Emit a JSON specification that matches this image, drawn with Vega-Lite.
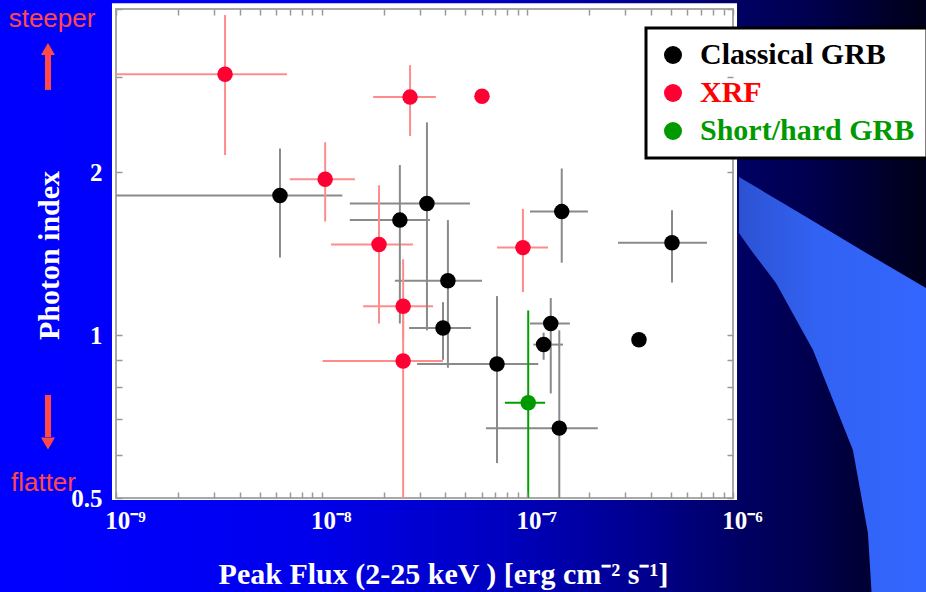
{
  "$schema": "https://vega.github.io/schema/vega-lite/v6.json",
  "width": 617,
  "height": 489,
  "autosize": {"type": "none"},
  "padding": {"left": 116, "top": 9, "right": 193, "bottom": 94},
  "background": "#0000e0",
  "config": {"view": {"stroke": null}, "font": "Liberation Serif", "legend": {"strokeWidth": 3}},
  "datasets": {
    "grb": [
      {"type": "Classical GRB", "flux": 6.27e-9, "flo": 1.0e-9, "fhi": 1.26e-8, "idx": 1.81, "ilo": 1.39, "ihi": 2.21},
      {"type": "Classical GRB", "flux": 2.40e-8, "flo": 1.37e-8, "fhi": 3.36e-8, "idx": 1.63, "ilo": 1.05, "ihi": 2.06},
      {"type": "Classical GRB", "flux": 3.25e-8, "flo": 1.37e-8, "fhi": 5.26e-8, "idx": 1.75, "ilo": 1.02, "ihi": 2.47},
      {"type": "Classical GRB", "flux": 4.11e-8, "flo": 2.27e-8, "fhi": 6.02e-8, "idx": 1.26, "ilo": 0.87, "ihi": 1.63},
      {"type": "Classical GRB", "flux": 3.89e-8, "flo": 2.66e-8, "fhi": 5.32e-8, "idx": 1.03, "ilo": 0.90, "ihi": 1.15},
      {"type": "Classical GRB", "flux": 7.12e-8, "flo": 2.91e-8, "fhi": 1.13e-7, "idx": 0.884, "ilo": 0.58, "ihi": 1.18},
      {"type": "Classical GRB", "flux": 1.30e-7, "flo": 1.03e-7, "fhi": 1.61e-7, "idx": 1.05, "ilo": 0.78, "ihi": 1.17},
      {"type": "Classical GRB", "flux": 1.20e-7, "flo": 1.07e-7, "fhi": 1.49e-7, "idx": 0.96, "ilo": 0.90, "ihi": 1.01},
      {"type": "Classical GRB", "flux": 1.43e-7, "flo": 6.29e-8, "fhi": 2.20e-7, "idx": 0.673, "ilo": 0.5, "ihi": 1.02},
      {"type": "Classical GRB", "flux": 1.47e-7, "flo": 1.03e-7, "fhi": 1.97e-7, "idx": 1.69, "ilo": 1.36, "ihi": 2.03},
      {"type": "Classical GRB", "flux": 3.49e-7, "idx": 0.98},
      {"type": "Classical GRB", "flux": 5.05e-7, "flo": 2.76e-7, "fhi": 7.47e-7, "idx": 1.48, "ilo": 1.25, "ihi": 1.70},
      {"type": "XRF", "flux": 3.39e-9, "flo": 1.0e-9, "fhi": 6.78e-9, "idx": 3.03, "ilo": 2.15, "ihi": 3.90},
      {"type": "XRF", "flux": 1.04e-8, "flo": 7.0e-9, "fhi": 1.45e-8, "idx": 1.94, "ilo": 1.62, "ihi": 2.27},
      {"type": "XRF", "flux": 2.69e-8, "flo": 1.78e-8, "fhi": 3.59e-8, "idx": 2.75, "ilo": 2.33, "ihi": 3.15},
      {"type": "XRF", "flux": 6.02e-8, "idx": 2.76},
      {"type": "XRF", "flux": 1.90e-8, "flo": 1.11e-8, "fhi": 2.78e-8, "idx": 1.47, "ilo": 1.05, "ihi": 1.89},
      {"type": "XRF", "flux": 2.49e-8, "flo": 1.59e-8, "fhi": 3.48e-8, "idx": 1.13, "ilo": 0.98, "ihi": 1.38},
      {"type": "XRF", "flux": 2.49e-8, "flo": 1.01e-8, "fhi": 3.89e-8, "idx": 0.895, "ilo": 0.5, "ihi": 1.15},
      {"type": "XRF", "flux": 9.52e-8, "flo": 7.12e-8, "fhi": 1.26e-7, "idx": 1.45, "ilo": 1.20, "ihi": 1.71},
      {"type": "Short/hard GRB", "flux": 1.01e-7, "flo": 7.78e-8, "fhi": 1.22e-7, "idx": 0.75, "ilo": 0.5, "ihi": 1.11}
    ],
    "swoosh": [
      {"sx": 1.069e-6, "top": 1.958, "bottom": 1.543},
      {"sx": 1.223e-6, "top": 1.90, "bottom": 1.435},
      {"sx": 1.618e-6, "top": 1.783, "bottom": 1.247},
      {"sx": 2.449e-6, "top": 1.624, "bottom": 0.938},
      {"sx": 3.828e-6, "top": 1.466, "bottom": 0.613},
      {"sx": 4.53e-6, "top": 1.411, "bottom": 0.431},
      {"sx": 4.80e-6, "top": 1.393, "bottom": 0.3},
      {"sx": 9.08e-6, "top": 1.209, "bottom": 0.3}
    ],
    "notes": [
      {"label": "steeper", "nx": 4.886e-10, "ny": 3.706},
      {"label": "flatter", "nx": 4.44e-10, "ny": 0.515}
    ],
    "arrows": [
      {"dir": "up", "ax": 4.67e-10, "a1": 3.29, "a2": 2.835, "hy": 3.375},
      {"dir": "down", "ax": 4.67e-10, "a1": 0.775, "a2": 0.648, "hy": 0.6304}
    ]
  },
  "resolve": {"axis": {"x": "independent", "y": "independent"}},
  "layer": [
    {
      "data": {"values": [{}]},
      "mark": {"type": "rect", "color": {"gradient": "linear", "x1": 0, "y1": 0, "x2": 1, "y2": 0, "stops": [
        {"offset": 0, "color": "#0000ff"},
        {"offset": 0.12, "color": "#0000fc"},
        {"offset": 0.33, "color": "#0000ec"},
        {"offset": 0.54, "color": "#0000c0"},
        {"offset": 0.70, "color": "#00008c"},
        {"offset": 0.80, "color": "#000062"},
        {"offset": 0.87, "color": "#000050"},
        {"offset": 1, "color": "#000018"}
      ]}},
      "encoding": {
        "x": {"datum": 2.73e-10, "type": "quantitative", "scale": {"type": "log", "domain": [1e-9, 1e-6]}, "axis": null},
        "x2": {"datum": 8.67e-6},
        "y": {"datum": 0.33, "type": "quantitative", "scale": {"type": "log", "domain": [0.5, 4]}, "axis": null},
        "y2": {"datum": 4.3}
      }
    },
    {
      "data": {"name": "swoosh"},
      "mark": {"type": "area", "color": {"gradient": "linear", "x1": 0, "y1": 0, "x2": 1, "y2": 0, "stops": [
        {"offset": 0, "color": "#2c52d2"},
        {"offset": 0.4, "color": "#3262f2"},
        {"offset": 1, "color": "#3366ff"}
      ]}},
      "encoding": {
        "x": {"field": "sx", "type": "quantitative", "scale": {"type": "log", "domain": [1e-9, 1e-6]}, "axis": null},
        "y": {"field": "top", "type": "quantitative", "stack": null, "scale": {"type": "log", "domain": [0.5, 4]}, "axis": null},
        "y2": {"field": "bottom"}
      }
    },
    {
      "data": {"values": [{}]},
      "mark": {"type": "rect", "fill": "#ffffff"},
      "encoding": {
        "x": {"datum": 9.56e-10, "type": "quantitative", "scale": {"type": "log", "domain": [1e-9, 1e-6]}, "axis": null},
        "x2": {"datum": 1.046e-6},
        "y": {"datum": 0.4958, "type": "quantitative", "scale": {"type": "log", "domain": [0.5, 4]}, "axis": null},
        "y2": {"datum": 4.1}
      }
    },
    {
      "data": {"values": [{}]},
      "mark": {"type": "rect", "fill": "#ffffff", "stroke": "#a8a8a8", "strokeWidth": 2},
      "encoding": {
        "x": {"datum": 1e-9, "type": "quantitative", "scale": {"type": "log", "domain": [1e-9, 1e-6]},
          "axis": {
            "orient": "bottom", "zindex": 1, "domain": false, "grid": false,
            "values": [1e-9, 2e-9, 3e-9, 4e-9, 5e-9, 6e-9, 7e-9, 8e-9, 9e-9, 1e-8, 2e-8, 3e-8, 4e-8, 5e-8, 6e-8, 7e-8, 8e-8, 9e-8, 1e-7, 2e-7, 3e-7, 4e-7, 5e-7, 6e-7, 7e-7, 8e-7, 9e-7, 1e-6],
            "labelExpr": "datum.value < 1.5e-9 ? '10⁻⁹' : (abs(datum.value - 1e-8) < 1e-12 ? '10⁻⁸' : (abs(datum.value - 1e-7) < 1e-11 ? '10⁻⁷' : (abs(datum.value - 1e-6) < 1e-10 ? '10⁻⁶' : '')))",
            "ticks": true, "tickSize": -6, "tickColor": "#999999", "tickWidth": 1.5,
            "labelOverlap": false, "labelFlush": false, "labelBound": false,
            "labelFont": "Liberation Serif", "labelFontWeight": "bold", "labelFontSize": 25, "labelColor": "#ffffff",
            "labelPadding": 16, "labelOffset": 9,
            "title": "Peak Flux (2-25 keV ) [erg cm⁻² s⁻¹]",
            "titleFont": "Liberation Serif", "titleFontWeight": "bold", "titleFontSize": 30, "titleColor": "#ffffff",
            "titleX": 327, "titleY": 85, "titleBaseline": "alphabetic", "titleAlign": "center"
          }},
        "x2": {"datum": 1e-6},
        "y": {"datum": 0.5, "type": "quantitative", "scale": {"type": "log", "domain": [0.5, 4]},
          "axis": {
            "orient": "left", "zindex": 1, "domain": false, "grid": false,
            "values": [0.5, 0.6, 0.7, 0.8, 0.9, 1, 2, 3, 4],
            "labelExpr": "datum.value == 0.5 ? '0.5' : (datum.value == 1 ? '1' : (datum.value == 2 ? '2' : ''))",
            "ticks": true, "tickSize": -6, "tickColor": "#999999", "tickWidth": 1.5,
            "labelOverlap": false, "labelFlush": false, "labelBound": false,
            "labelFont": "Liberation Serif", "labelFontWeight": "bold", "labelFontSize": 25, "labelColor": "#ffffff",
            "labelPadding": 20,
            "title": "Photon index",
            "titleFont": "Liberation Serif", "titleFontWeight": "bold", "titleFontSize": 30, "titleColor": "#ffffff",
            "titleX": -58, "titleY": 246, "titleBaseline": "alphabetic", "titleAlign": "center", "titleAngle": -90
          }},
        "y2": {"datum": 4}
      }
    },
    {
      "data": {"name": "grb"},
      "transform": [{"filter": "isValid(datum.flo)"}],
      "mark": {"type": "rule", "strokeWidth": 2},
      "encoding": {
        "x": {"field": "flo", "type": "quantitative", "scale": {"type": "log", "domain": [1e-9, 1e-6]}, "axis": null},
        "x2": {"field": "fhi"},
        "y": {"field": "idx", "type": "quantitative", "scale": {"type": "log", "domain": [0.5, 4]}, "axis": null},
        "color": {"condition": [{"test": "datum.type === 'XRF'", "value": "#ff8c8c"}, {"test": "datum.type === 'Short/hard GRB'", "value": "#00a000"}], "value": "#8a8a8a"}
      }
    },
    {
      "data": {"name": "grb"},
      "transform": [{"filter": "isValid(datum.ilo)"}],
      "mark": {"type": "rule", "strokeWidth": 2},
      "encoding": {
        "x": {"field": "flux", "type": "quantitative", "scale": {"type": "log", "domain": [1e-9, 1e-6]}, "axis": null},
        "y": {"field": "ilo", "type": "quantitative", "scale": {"type": "log", "domain": [0.5, 4]}, "axis": null},
        "y2": {"field": "ihi"},
        "color": {"condition": [{"test": "datum.type === 'XRF'", "value": "#ff8c8c"}, {"test": "datum.type === 'Short/hard GRB'", "value": "#00a000"}], "value": "#8a8a8a"}
      }
    },
    {
      "data": {"name": "grb"},
      "mark": {"type": "point", "filled": true, "opacity": 1, "size": 240, "shape": "circle", "strokeWidth": 0},
      "encoding": {
        "x": {"field": "flux", "type": "quantitative", "scale": {"type": "log", "domain": [1e-9, 1e-6]},
          "axis": {"orient": "top", "zindex": 1, "domain": false, "grid": false, "labels": false, "title": null,
            "values": [1e-9, 2e-9, 3e-9, 4e-9, 5e-9, 6e-9, 7e-9, 8e-9, 9e-9, 1e-8, 2e-8, 3e-8, 4e-8, 5e-8, 6e-8, 7e-8, 8e-8, 9e-8, 1e-7, 2e-7, 3e-7, 4e-7, 5e-7, 6e-7, 7e-7, 8e-7, 9e-7, 1e-6],
            "tickSize": -6, "tickColor": "#999999", "tickWidth": 1.5}},
        "y": {"field": "idx", "type": "quantitative", "scale": {"type": "log", "domain": [0.5, 4]},
          "axis": {"orient": "right", "zindex": 1, "domain": false, "grid": false, "labels": false, "title": null,
            "values": [0.5, 0.6, 0.7, 0.8, 0.9, 1, 2, 3, 4],
            "tickSize": -6, "tickColor": "#999999", "tickWidth": 1.5}},
        "color": {"field": "type", "type": "nominal",
          "scale": {"domain": ["Classical GRB", "XRF", "Short/hard GRB"], "range": ["#000000", "#ff0033", "#009900"]},
          "legend": {
            "orient": "none", "legendX": 530, "legendY": 19, "title": null,
            "fillColor": "#ffffff", "strokeColor": "#000000", "padding": 12,
            "symbolType": "circle", "symbolSize": 324, "symbolStrokeWidth": 0, "symbolOpacity": 1,
            "labelFont": "Liberation Serif", "labelFontWeight": "bold", "labelFontSize": 30, "labelLimit": 400,
            "labelOffset": 12, "rowPadding": 8,
            "labelColor": {"expr": "datum.value === 'XRF' ? '#ff0000' : (datum.value === 'Short/hard GRB' ? '#009900' : '#000000')"}
          }}
      }
    },
    {
      "data": {"name": "notes"},
      "mark": {"type": "text", "font": "Liberation Sans", "fontSize": 26, "color": "#ff4848", "align": "center", "baseline": "alphabetic"},
      "encoding": {
        "x": {"field": "nx", "type": "quantitative", "scale": {"type": "log", "domain": [1e-9, 1e-6]}, "axis": null},
        "y": {"field": "ny", "type": "quantitative", "scale": {"type": "log", "domain": [0.5, 4]}, "axis": null},
        "text": {"field": "label"}
      }
    },
    {
      "data": {"name": "arrows"},
      "mark": {"type": "rule", "strokeWidth": 6, "color": "#ff4848"},
      "encoding": {
        "x": {"field": "ax", "type": "quantitative", "scale": {"type": "log", "domain": [1e-9, 1e-6]}, "axis": null},
        "y": {"field": "a1", "type": "quantitative", "scale": {"type": "log", "domain": [0.5, 4]}, "axis": null},
        "y2": {"field": "a2"}
      }
    },
    {
      "data": {"name": "arrows"},
      "mark": {"type": "point", "filled": true, "opacity": 1, "size": 196, "color": "#ff4848", "strokeWidth": 0},
      "encoding": {
        "x": {"field": "ax", "type": "quantitative", "scale": {"type": "log", "domain": [1e-9, 1e-6]}, "axis": null},
        "y": {"field": "hy", "type": "quantitative", "scale": {"type": "log", "domain": [0.5, 4]}, "axis": null},
        "shape": {"condition": {"test": "datum.dir === 'up'", "value": "triangle-up"}, "value": "triangle-down"}
      }
    }
  ]
}
